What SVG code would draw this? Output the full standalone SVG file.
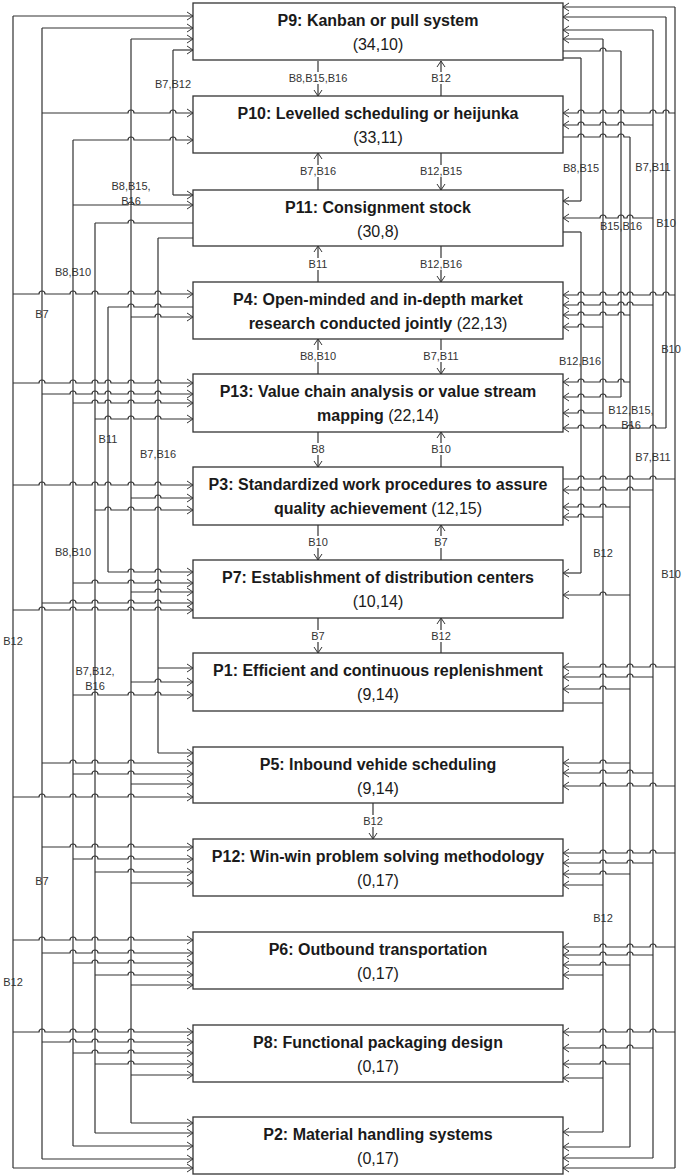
<svg xmlns="http://www.w3.org/2000/svg" width="683" height="1175" viewBox="0 0 683 1175">
<style>
.bg{fill:#fff}
.box{fill:#fff;stroke:#333;stroke-width:1.3}
.t{font-family:"Liberation Sans",Arial,sans-serif;font-size:16px;fill:#1a1a1a;text-anchor:middle}
.b{font-weight:bold}
.c{fill:none;stroke:#333;stroke-width:1.2}
.a{marker-end:url(#ah)}
.lb{font-family:"Liberation Sans",Arial,sans-serif;font-size:11px;fill:#333;text-anchor:middle}
</style>
<defs>
<marker id="ah" markerUnits="userSpaceOnUse" viewBox="-8 -5 9 10" markerWidth="9" markerHeight="10" refX="0" refY="0" orient="auto">
<path d="M-6,-4 L0,0 L-6,4" fill="none" stroke="#333" stroke-width="1"/>
</marker>
</defs>
<rect class="bg" x="0" y="0" width="683" height="1175"/>
<g id="connectors">
<path class="c" d="M13 16V1168M42 28V1159M73 140V1146M95 223V1133M108 307V572M131 39V1123M158 238V753M173 50V195"/>
<path class="c" d="M581 58V201M581 232V573M603 39V1132M621 51V397M630 137V1147M653 30V1158M666 17V428M675 7V1168"/>
<path class="c a" d="M13 16H193"/>
<path class="c a" d="M42 28H193"/>
<path class="c a" d="M131 39H193"/>
<path class="c a" d="M173 50H193"/>
<path class="c a" d="M42 113H128a3 3 0 0 1 6 0H170a3 3 0 0 1 6 0H193"/>
<path class="c a" d="M73 140H128a3 3 0 0 1 6 0H170a3 3 0 0 1 6 0H193"/>
<path class="c a" d="M173 195H193"/>
<path class="c a" d="M73 205H128a3 3 0 0 1 6 0H193"/>
<path class="c" d="M95 223H128a3 3 0 0 1 6 0H193"/>
<path class="c" d="M158 238H193"/>
<path class="c a" d="M13 294H39a3 3 0 0 1 6 0H70a3 3 0 0 1 6 0H92a3 3 0 0 1 6 0H128a3 3 0 0 1 6 0H155a3 3 0 0 1 6 0H193"/>
<path class="c" d="M108 307H128a3 3 0 0 1 6 0H155a3 3 0 0 1 6 0H193"/>
<path class="c a" d="M131 317H155a3 3 0 0 1 6 0H193"/>
<path class="c a" d="M13 383H39a3 3 0 0 1 6 0H70a3 3 0 0 1 6 0H92a3 3 0 0 1 6 0H105a3 3 0 0 1 6 0H128a3 3 0 0 1 6 0H155a3 3 0 0 1 6 0H193"/>
<path class="c a" d="M42 394H70a3 3 0 0 1 6 0H92a3 3 0 0 1 6 0H105a3 3 0 0 1 6 0H128a3 3 0 0 1 6 0H155a3 3 0 0 1 6 0H193"/>
<path class="c a" d="M73 403H92a3 3 0 0 1 6 0H105a3 3 0 0 1 6 0H128a3 3 0 0 1 6 0H155a3 3 0 0 1 6 0H193"/>
<path class="c a" d="M95 419H105a3 3 0 0 1 6 0H128a3 3 0 0 1 6 0H155a3 3 0 0 1 6 0H193"/>
<path class="c a" d="M13 485H39a3 3 0 0 1 6 0H70a3 3 0 0 1 6 0H92a3 3 0 0 1 6 0H105a3 3 0 0 1 6 0H128a3 3 0 0 1 6 0H155a3 3 0 0 1 6 0H193"/>
<path class="c a" d="M131 498H155a3 3 0 0 1 6 0H193"/>
<path class="c a" d="M95 510H105a3 3 0 0 1 6 0H128a3 3 0 0 1 6 0H155a3 3 0 0 1 6 0H193"/>
<path class="c a" d="M108 572H128a3 3 0 0 1 6 0H155a3 3 0 0 1 6 0H193"/>
<path class="c a" d="M73 583H92a3 3 0 0 1 6 0H128a3 3 0 0 1 6 0H155a3 3 0 0 1 6 0H193"/>
<path class="c a" d="M131 592H155a3 3 0 0 1 6 0H193"/>
<path class="c a" d="M42 603H70a3 3 0 0 1 6 0H92a3 3 0 0 1 6 0H128a3 3 0 0 1 6 0H155a3 3 0 0 1 6 0H193"/>
<path class="c a" d="M13 610H39a3 3 0 0 1 6 0H70a3 3 0 0 1 6 0H92a3 3 0 0 1 6 0H128a3 3 0 0 1 6 0H155a3 3 0 0 1 6 0H193"/>
<path class="c a" d="M158 668H193"/>
<path class="c a" d="M131 682H155a3 3 0 0 1 6 0H193"/>
<path class="c a" d="M73 695H92a3 3 0 0 1 6 0H128a3 3 0 0 1 6 0H155a3 3 0 0 1 6 0H193"/>
<path class="c a" d="M158 753H193"/>
<path class="c a" d="M42 763H70a3 3 0 0 1 6 0H92a3 3 0 0 1 6 0H128a3 3 0 0 1 6 0H193"/>
<path class="c a" d="M73 774H92a3 3 0 0 1 6 0H128a3 3 0 0 1 6 0H193"/>
<path class="c a" d="M131 784H193"/>
<path class="c a" d="M13 797H39a3 3 0 0 1 6 0H70a3 3 0 0 1 6 0H92a3 3 0 0 1 6 0H128a3 3 0 0 1 6 0H193"/>
<path class="c a" d="M42 847H70a3 3 0 0 1 6 0H92a3 3 0 0 1 6 0H128a3 3 0 0 1 6 0H193"/>
<path class="c a" d="M73 859H92a3 3 0 0 1 6 0H128a3 3 0 0 1 6 0H193"/>
<path class="c a" d="M95 872H128a3 3 0 0 1 6 0H193"/>
<path class="c a" d="M131 883H193"/>
<path class="c a" d="M13 940H39a3 3 0 0 1 6 0H70a3 3 0 0 1 6 0H92a3 3 0 0 1 6 0H128a3 3 0 0 1 6 0H193"/>
<path class="c a" d="M42 953H70a3 3 0 0 1 6 0H92a3 3 0 0 1 6 0H128a3 3 0 0 1 6 0H193"/>
<path class="c a" d="M73 963H92a3 3 0 0 1 6 0H128a3 3 0 0 1 6 0H193"/>
<path class="c a" d="M95 975H128a3 3 0 0 1 6 0H193"/>
<path class="c a" d="M131 985H193"/>
<path class="c a" d="M13 1032H39a3 3 0 0 1 6 0H70a3 3 0 0 1 6 0H92a3 3 0 0 1 6 0H128a3 3 0 0 1 6 0H193"/>
<path class="c a" d="M42 1042H70a3 3 0 0 1 6 0H92a3 3 0 0 1 6 0H128a3 3 0 0 1 6 0H193"/>
<path class="c a" d="M73 1053H92a3 3 0 0 1 6 0H128a3 3 0 0 1 6 0H193"/>
<path class="c a" d="M95 1064H128a3 3 0 0 1 6 0H193"/>
<path class="c a" d="M131 1075H193"/>
<path class="c a" d="M131 1123H193"/>
<path class="c a" d="M95 1133H193"/>
<path class="c a" d="M73 1146H193"/>
<path class="c a" d="M42 1159H193"/>
<path class="c a" d="M13 1168H193"/>
<path class="c a" d="M675 7H563"/>
<path class="c a" d="M666 17H563"/>
<path class="c a" d="M653 30H563"/>
<path class="c a" d="M603 39H563"/>
<path class="c" d="M621 51H606a3 3 0 0 0 -6 0H563"/>
<path class="c" d="M581 58H563"/>
<path class="c a" d="M675 113H669a3 3 0 0 0 -6 0H656a3 3 0 0 0 -6 0H624a3 3 0 0 0 -6 0H606a3 3 0 0 0 -6 0H584a3 3 0 0 0 -6 0H563"/>
<path class="c a" d="M653 125H624a3 3 0 0 0 -6 0H606a3 3 0 0 0 -6 0H584a3 3 0 0 0 -6 0H563"/>
<path class="c" d="M630 137H624a3 3 0 0 0 -6 0H606a3 3 0 0 0 -6 0H584a3 3 0 0 0 -6 0H563"/>
<path class="c a" d="M581 201H563"/>
<path class="c a" d="M653 218H633a3 3 0 0 0 -6 0H624a3 3 0 0 0 -6 0H606a3 3 0 0 0 -6 0H563"/>
<path class="c" d="M581 232H563"/>
<path class="c a" d="M675 295H669a3 3 0 0 0 -6 0H656a3 3 0 0 0 -6 0H633a3 3 0 0 0 -6 0H624a3 3 0 0 0 -6 0H606a3 3 0 0 0 -6 0H584a3 3 0 0 0 -6 0H563"/>
<path class="c a" d="M653 305H633a3 3 0 0 0 -6 0H624a3 3 0 0 0 -6 0H606a3 3 0 0 0 -6 0H584a3 3 0 0 0 -6 0H563"/>
<path class="c a" d="M630 315H624a3 3 0 0 0 -6 0H606a3 3 0 0 0 -6 0H584a3 3 0 0 0 -6 0H563"/>
<path class="c a" d="M603 327H584a3 3 0 0 0 -6 0H563"/>
<path class="c a" d="M630 382H624a3 3 0 0 0 -6 0H606a3 3 0 0 0 -6 0H584a3 3 0 0 0 -6 0H563"/>
<path class="c a" d="M621 397H606a3 3 0 0 0 -6 0H584a3 3 0 0 0 -6 0H563"/>
<path class="c a" d="M603 413H584a3 3 0 0 0 -6 0H563"/>
<path class="c a" d="M666 428H656a3 3 0 0 0 -6 0H633a3 3 0 0 0 -6 0H606a3 3 0 0 0 -6 0H584a3 3 0 0 0 -6 0H563"/>
<path class="c" d="M675 479H656a3 3 0 0 0 -6 0H633a3 3 0 0 0 -6 0H606a3 3 0 0 0 -6 0H584a3 3 0 0 0 -6 0H563"/>
<path class="c a" d="M653 490H633a3 3 0 0 0 -6 0H606a3 3 0 0 0 -6 0H584a3 3 0 0 0 -6 0H563"/>
<path class="c a" d="M630 507H606a3 3 0 0 0 -6 0H584a3 3 0 0 0 -6 0H563"/>
<path class="c a" d="M603 517H584a3 3 0 0 0 -6 0H563"/>
<path class="c a" d="M581 573H563"/>
<path class="c a" d="M630 595H606a3 3 0 0 0 -6 0H563"/>
<path class="c a" d="M675 667H656a3 3 0 0 0 -6 0H633a3 3 0 0 0 -6 0H606a3 3 0 0 0 -6 0H563"/>
<path class="c a" d="M653 677H633a3 3 0 0 0 -6 0H606a3 3 0 0 0 -6 0H563"/>
<path class="c a" d="M630 689H606a3 3 0 0 0 -6 0H563"/>
<path class="c" d="M603 703H563"/>
<path class="c a" d="M630 763H606a3 3 0 0 0 -6 0H563"/>
<path class="c a" d="M653 773H633a3 3 0 0 0 -6 0H606a3 3 0 0 0 -6 0H563"/>
<path class="c a" d="M675 786H656a3 3 0 0 0 -6 0H633a3 3 0 0 0 -6 0H606a3 3 0 0 0 -6 0H563"/>
<path class="c a" d="M675 853H656a3 3 0 0 0 -6 0H633a3 3 0 0 0 -6 0H606a3 3 0 0 0 -6 0H563"/>
<path class="c a" d="M653 863H633a3 3 0 0 0 -6 0H606a3 3 0 0 0 -6 0H563"/>
<path class="c a" d="M630 874H606a3 3 0 0 0 -6 0H563"/>
<path class="c a" d="M603 885H563"/>
<path class="c a" d="M675 947H656a3 3 0 0 0 -6 0H633a3 3 0 0 0 -6 0H606a3 3 0 0 0 -6 0H563"/>
<path class="c a" d="M653 955H633a3 3 0 0 0 -6 0H606a3 3 0 0 0 -6 0H563"/>
<path class="c a" d="M630 965H606a3 3 0 0 0 -6 0H563"/>
<path class="c a" d="M603 975H563"/>
<path class="c a" d="M675 1032H656a3 3 0 0 0 -6 0H633a3 3 0 0 0 -6 0H606a3 3 0 0 0 -6 0H563"/>
<path class="c a" d="M653 1048H633a3 3 0 0 0 -6 0H606a3 3 0 0 0 -6 0H563"/>
<path class="c a" d="M630 1064H606a3 3 0 0 0 -6 0H563"/>
<path class="c a" d="M603 1078H563"/>
<path class="c a" d="M603 1132H563"/>
<path class="c a" d="M630 1147H563"/>
<path class="c a" d="M653 1158H563"/>
<path class="c a" d="M675 1168H563"/>
<path class="c a" d="M318 61V96"/>
<path class="c a" d="M441 96V61"/>
<path class="c a" d="M318 190V153"/>
<path class="c a" d="M441 153V190"/>
<path class="c a" d="M318 282V246"/>
<path class="c a" d="M441 246V282"/>
<path class="c a" d="M318 374V339"/>
<path class="c a" d="M441 339V374"/>
<path class="c a" d="M318 432V467"/>
<path class="c a" d="M441 467V432"/>
<path class="c a" d="M318 525V560"/>
<path class="c a" d="M441 560V525"/>
<path class="c a" d="M318 618V653"/>
<path class="c a" d="M441 653V618"/>
<path class="c a" d="M373 803V839"/>
<g>
<rect class="bg" x="290" y="72" width="56" height="12"/><text class="lb" x="318" y="82">B8,B15,B16</text>
<rect class="bg" x="431" y="72" width="20" height="12"/><text class="lb" x="441" y="82">B12</text>
<rect class="bg" x="300" y="165" width="36" height="12"/><text class="lb" x="318" y="175">B7,B16</text>
<rect class="bg" x="420" y="165" width="42" height="12"/><text class="lb" x="441" y="175">B12,B15</text>
<rect class="bg" x="308" y="258" width="20" height="12"/><text class="lb" x="318" y="268">B11</text>
<rect class="bg" x="420" y="258" width="42" height="12"/><text class="lb" x="441" y="268">B12,B16</text>
<rect class="bg" x="300" y="350" width="36" height="12"/><text class="lb" x="318" y="360">B8,B10</text>
<rect class="bg" x="423" y="350" width="36" height="12"/><text class="lb" x="441" y="360">B7,B11</text>
<rect class="bg" x="311" y="443" width="14" height="12"/><text class="lb" x="318" y="453">B8</text>
<rect class="bg" x="431" y="443" width="20" height="12"/><text class="lb" x="441" y="453">B10</text>
<rect class="bg" x="308" y="536" width="20" height="12"/><text class="lb" x="318" y="546">B10</text>
<rect class="bg" x="434" y="536" width="14" height="12"/><text class="lb" x="441" y="546">B7</text>
<rect class="bg" x="311" y="630" width="14" height="12"/><text class="lb" x="318" y="640">B7</text>
<rect class="bg" x="431" y="630" width="20" height="12"/><text class="lb" x="441" y="640">B12</text>
<rect class="bg" x="363" y="815" width="20" height="12"/><text class="lb" x="373" y="825">B12</text>
</g>
<g>
<text class="lb" x="173" y="88">B7,B12</text>
<text class="lb" x="131" y="190">B8,B15,</text>
<text class="lb" x="131" y="205">B16</text>
<text class="lb" x="73" y="276">B8,B10</text>
<text class="lb" x="42" y="318">B7</text>
<text class="lb" x="108" y="443">B11</text>
<text class="lb" x="158" y="458">B7,B16</text>
<text class="lb" x="73" y="556">B8,B10</text>
<text class="lb" x="13" y="645">B12</text>
<text class="lb" x="95" y="675">B7,B12,</text>
<text class="lb" x="95" y="690">B16</text>
<text class="lb" x="42" y="885">B7</text>
<text class="lb" x="13" y="986">B12</text>
<text class="lb" x="581" y="172">B8,B15</text>
<text class="lb" x="653" y="171">B7,B11</text>
<text class="lb" x="621" y="230">B15,B16</text>
<text class="lb" x="666" y="227">B10</text>
<text class="lb" x="580" y="365">B12,B16</text>
<text class="lb" x="671" y="353">B10</text>
<text class="lb" x="631" y="414">B12,B15,</text>
<text class="lb" x="631" y="429">B16</text>
<text class="lb" x="653" y="461">B7,B11</text>
<text class="lb" x="603" y="557">B12</text>
<text class="lb" x="671" y="578">B10</text>
<text class="lb" x="603" y="922">B12</text>
</g>
</g>
<g id="P9"><rect class="box" x="193" y="3" width="370" height="57"/><text class="t b" x="378" y="26">P9: Kanban or pull system</text><text class="t" x="378" y="50">(34,10)</text></g>
<g id="P10"><rect class="box" x="193" y="96" width="370" height="57"/><text class="t b" x="378" y="119">P10: Levelled scheduling or heijunka</text><text class="t" x="378" y="143">(33,11)</text></g>
<g id="P11"><rect class="box" x="193" y="190" width="370" height="56"/><text class="t b" x="378" y="213">P11: Consignment stock</text><text class="t" x="378" y="237">(30,8)</text></g>
<g id="P4"><rect class="box" x="193" y="282" width="370" height="57"/><text class="t b" x="378" y="305">P4: Open-minded and in-depth market</text><text class="t" x="378" y="329"><tspan class="b">research conducted jointly</tspan> (22,13)</text></g>
<g id="P13"><rect class="box" x="193" y="374" width="370" height="58"/><text class="t b" x="378" y="397">P13: Value chain analysis or value stream</text><text class="t" x="378" y="421"><tspan class="b">mapping</tspan> (22,14)</text></g>
<g id="P3"><rect class="box" x="193" y="467" width="370" height="58"/><text class="t b" x="378" y="490">P3: Standardized work procedures to assure</text><text class="t" x="378" y="514"><tspan class="b">quality achievement</tspan> (12,15)</text></g>
<g id="P7"><rect class="box" x="193" y="560" width="370" height="58"/><text class="t b" x="378" y="583">P7: Establishment of distribution centers</text><text class="t" x="378" y="607">(10,14)</text></g>
<g id="P1"><rect class="box" x="193" y="653" width="370" height="58"/><text class="t b" x="378" y="676">P1: Efficient and continuous replenishment</text><text class="t" x="378" y="700">(9,14)</text></g>
<g id="P5"><rect class="box" x="193" y="747" width="370" height="56"/><text class="t b" x="378" y="770">P5: Inbound vehide scheduling</text><text class="t" x="378" y="794">(9,14)</text></g>
<g id="P12"><rect class="box" x="193" y="839" width="370" height="57"/><text class="t b" x="378" y="862">P12: Win-win problem solving methodology</text><text class="t" x="378" y="886">(0,17)</text></g>
<g id="P6"><rect class="box" x="193" y="932" width="370" height="57"/><text class="t b" x="378" y="955">P6: Outbound transportation</text><text class="t" x="378" y="979">(0,17)</text></g>
<g id="P8"><rect class="box" x="193" y="1025" width="370" height="57"/><text class="t b" x="378" y="1048">P8: Functional packaging design</text><text class="t" x="378" y="1072">(0,17)</text></g>
<g id="P2"><rect class="box" x="193" y="1117" width="370" height="57"/><text class="t b" x="378" y="1140">P2: Material handling systems</text><text class="t" x="378" y="1164">(0,17)</text></g>
</svg>
